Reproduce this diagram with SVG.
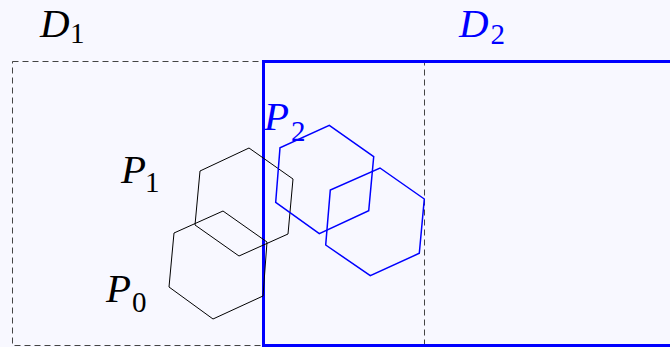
<svg xmlns="http://www.w3.org/2000/svg" width="670" height="347" viewBox="0 0 670 347">
<style>
.lbl{font-family:"Liberation Serif","DejaVu Serif",serif;font-style:italic;font-size:41px}
.sub{font-style:normal;font-size:29px}
.blk{fill:#000}
.blu{fill:#0000ff}
.hexk{fill:none;stroke:#000;stroke-width:1}
.hexb{fill:none;stroke:#0000ff;stroke-width:1.5}
</style>
<rect x="0" y="0" width="670" height="347" fill="#f8f8ff"/>
<g id="D1">
<rect x="12.5" y="61.5" width="412" height="284" fill="none" stroke="#444" stroke-width="1" stroke-dasharray="6 4"/>
<text class="lbl blk" x="40" y="37">D<tspan class="sub" dx="0.5" dy="6">1</tspan></text>
</g>
<g id="D2">
<rect x="263.5" y="61.5" width="420" height="284" fill="none" stroke="#0000ff" stroke-width="3"/>
<text class="lbl blu" x="459" y="37">D<tspan class="sub" dx="2" dy="7">2</tspan></text>
</g>
<g id="P1">
<polygon class="hexk" points="249,148 293,179 288,234 239,256 195,225 200,171"/>
<text class="lbl blk" x="121" y="183">P<tspan class="sub" dx="-1" dy="9">1</tspan></text>
</g>
<g id="P0">
<polygon class="hexk" points="223,211 267,242 263,296 213,319 169,287 174,233"/>
<text class="lbl blk" x="106" y="302">P<tspan class="sub" dx="1" dy="10">0</tspan></text>
</g>
<g id="P2">
<polygon class="hexb" points="329.3,125.3 373.7,156.7 368.7,210.7 319.3,233.7 275.7,202.3 280,147.7"/>
<polygon class="hexb" points="380,168 424.3,199 419.3,253.3 370.3,275.7 325.7,245 330.3,190"/>
<text class="lbl blu" x="264" y="130">P<tspan class="sub" dx="2" dy="11">2</tspan></text>
</g>
<g id="connectors"/>
</svg>
